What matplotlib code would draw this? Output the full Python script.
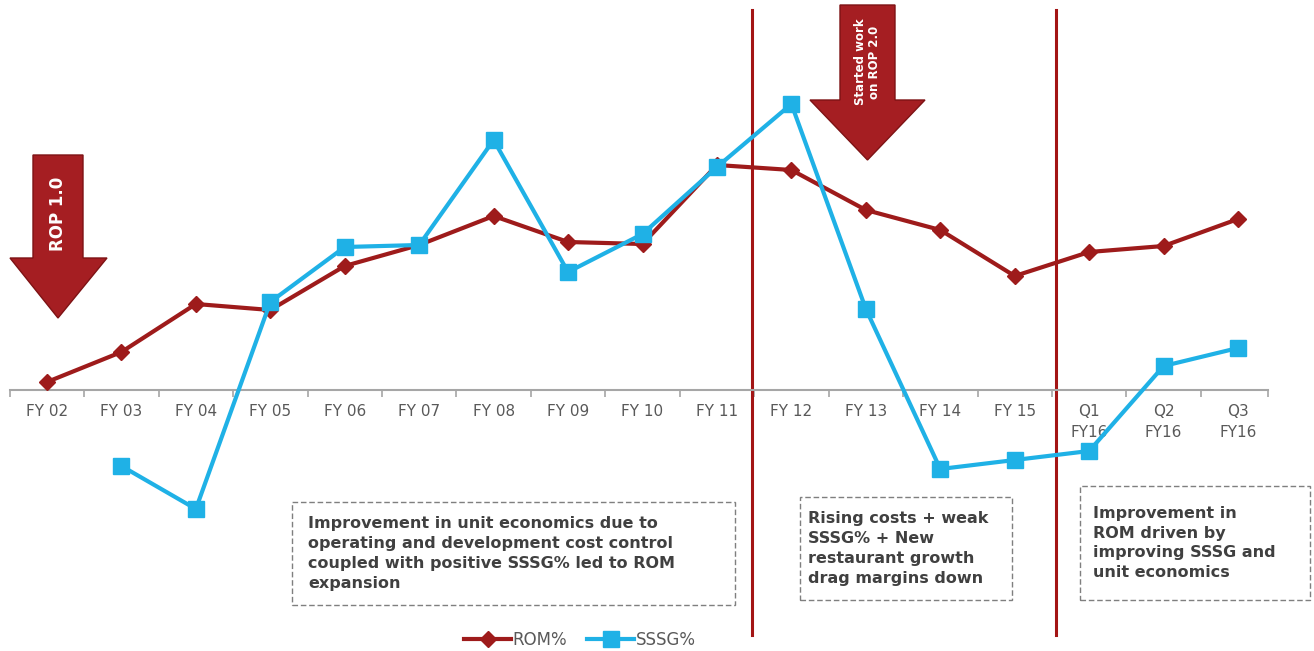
import matplotlib.pyplot as plt
import matplotlib.patches as mpatches

plt.rcParams["font.family"] = ["DejaVu Sans"]

categories = ["FY 02", "FY 03", "FY 04", "FY 05", "FY 06", "FY 07", "FY 08", "FY 09",
              "FY 10", "FY 11", "FY 12", "FY 13", "FY 14", "FY 15",
              "Q1\nFY16", "Q2\nFY16", "Q3\nFY16"]
rom = [0.8, 3.8, 8.6, 8.0, 12.4, 14.5, 17.4, 14.8, 14.6, 22.5, 22.0, 18.0, 16.0, 11.4,
       13.8, 14.4, 17.1]
sssg = [None, -7.6, -11.9, 8.8, 14.3, 14.5, 25.0, 11.8, 15.6, 22.3, 28.6, 8.1, -7.9, -7.0,
        -6.1, 2.4, 4.2]

notes = [
    "Improvement in unit economics due to\noperating and development cost control\n"
    "coupled with positive SSSG% led to ROM\nexpansion",
    "Rising costs + weak\nSSSG% + New\nrestaurant growth\ndrag margins down",
    "Improvement in\nROM driven by\nimproving SSSG and\nunit economics",
]

W, H = 1314, 651
RED = "#9e1b1b"
BLUE = "#1fb1e6"
GRAY = "#595959"


def px(x, y):
    # pixel position -> axes fraction
    return x / W, 1 - y / H


def main():
    fig = plt.figure(figsize=(W / 100, H / 100), dpi=100)
    ax = fig.add_axes([0, 0, 1, 1])
    ax.set_xlim(-0.631, 17.02)
    ax.set_ylim(-26.1, 39.0)

    xs = list(range(len(categories)))
    ax.plot(xs, rom, color=RED, lw=3, marker="D", markersize=8, label="ROM%", zorder=3)
    sx = [x for x, v in zip(xs, sssg) if v is not None]
    sv = [v for v in sssg if v is not None]
    ax.plot(sx, sv, color=BLUE, lw=3, marker="s", markersize=11, label="SSSG%", zorder=4)

    for s in ["top", "right", "left"]:
        ax.spines[s].set_visible(False)
    ax.spines["bottom"].set_position(("data", 0))
    ax.spines["bottom"].set_bounds(-0.5, 16.4)
    ax.spines["bottom"].set_color("#a6a6a6")
    ax.spines["bottom"].set_linewidth(1.5)
    ax.set_yticks([])
    ax.set_xticks([i - 0.5 for i in range(len(categories))] + [16.4])
    ax.set_xticklabels([])
    ax.tick_params(axis="x", which="major", length=5, width=1.2, color="#a6a6a6",
                   direction="out")
    ax.set_xticks(xs, minor=True)
    ax.set_xticklabels(categories, minor=True)
    ax.tick_params(axis="x", which="minor", length=0, pad=10, labelsize=11,
                   labelcolor=GRAY)
    for t in ax.get_xticklabels(minor=True):
        t.set_verticalalignment("top")
        t.set_linespacing(1.55)

    # vertical separators
    for xv in [9.47, 13.55]:
        ax.axvline(xv, ymin=0.025, ymax=0.985, color="#a31515", lw=2.2, zorder=2)

    # arrows
    def arrow(x0, x1, y0, y1, hx0, hx1, y2):
        tip = (x0 + x1) / 2
        pts = [px(x0, y0), px(x1, y0), px(x1, y1), px(hx1, y1), px(tip, y2),
               px(hx0, y1), px(x0, y1)]
        ax.add_patch(mpatches.Polygon(pts, closed=True, transform=ax.transAxes,
                                      facecolor="#a51e22", edgecolor="#7d1214",
                                      lw=1, zorder=5))

    arrow(33, 83, 155, 258, 10, 107, 318)
    ax.text(*px(58, 214), "ROP 1.0", transform=ax.transAxes, rotation=90,
            color="white", fontsize=12, fontweight="bold", ha="center", va="center",
            zorder=6)
    arrow(840, 895, 5, 100, 810, 925, 160)
    ax.text(*px(867, 62), "Started work\non ROP 2.0", transform=ax.transAxes,
            rotation=90, color="white", fontsize=8.5, fontweight="bold",
            ha="center", va="center", linespacing=1.1, zorder=6)

    # note boxes
    boxes = [(292, 502, 735, 605, 308), (800, 497, 1012, 600, 808),
             (1080, 486, 1310, 600, 1093)]
    for (bx0, by0, bx1, by1, tx), note in zip(boxes, notes):
        x0, y0 = px(bx0, by1)
        x1, y1 = px(bx1, by0)
        ax.add_patch(mpatches.Rectangle((x0, y0), x1 - x0, y1 - y0,
                                        transform=ax.transAxes, fill=False,
                                        edgecolor="#7f7f7f", lw=1, ls=(0, (4, 2))))
        ax.text(*px(tx, (by0 + by1) / 2), note, transform=ax.transAxes,
                ha="left", va="center", fontsize=11.5, fontweight="bold",
                color="#404040", linespacing=1.4)

    leg = ax.legend(loc="center", bbox_to_anchor=px(580, 640), ncol=2, frameon=False,
                    fontsize=12, handlelength=2.8, columnspacing=1.2,
                    handletextpad=0.1, borderpad=0)
    for t in leg.get_texts():
        t.set_color(GRAY)

    fig.savefig("out.png", dpi=100)


if __name__ == "__main__":
    main()
